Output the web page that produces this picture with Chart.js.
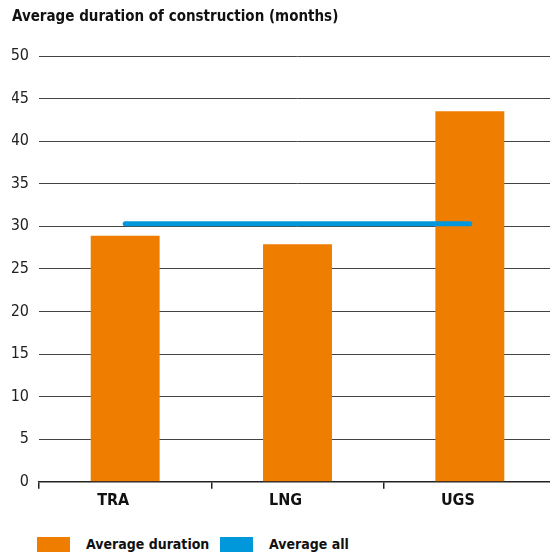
<!DOCTYPE html>
<html>
<head>
<meta charset="utf-8">
<script src="https://cdn.jsdelivr.net/npm/chart.js@4/dist/chart.umd.min.js"></script>
<style>
  body { margin: 0; background: #fff; }
  #wrap { position: relative; width: 550px; height: 556px; overflow: hidden; }
  #chartBox { width: 556px; height: 520px; }
  #legend {
    position: absolute; left: 37px; top: 536px;
    display: flex; align-items: center;
    font-family: 'DejaVu Sans Condensed', sans-serif;
    font-weight: bold; font-size: 14px; color: #111;
  }
  #legend .item { display: flex; align-items: center; width: 183px; }
  #legend .box { width: 33px; height: 15px; margin-right: 16px; }
</style>
</head>
<body>
<div id="wrap">
  <div id="chartBox"><canvas id="myChart"></canvas></div>
  <div id="legend"></div>
</div>
<script>
const categories = ["TRA", "LNG", "UGS"];
const avgDuration = [28.9, 27.9, 43.5];
const avgAll = [30.3, 30.3, 30.3];
const yTicks = [0, 5, 10, 15, 20, 25, 30, 35, 40, 45, 50];

const FONT = "'DejaVu Sans Condensed', sans-serif";
const ORANGE = "#ef7d00";
const BLUE = "#0098db";

function buildLegend(chart) {
  const legend = document.getElementById("legend");
  legend.innerHTML = "";
  chart.data.datasets.forEach((ds) => {
    const item = document.createElement("div");
    item.className = "item";
    const box = document.createElement("span");
    box.className = "box";
    box.style.background = ds.backgroundColor;
    const text = document.createElement("span");
    text.textContent = ds.label;
    item.appendChild(box);
    item.appendChild(text);
    legend.appendChild(item);
  });
}

function createChart() {
  const data = {
    labels: categories,
    datasets: [
      {
        type: "bar",
        label: "Average duration",
        backgroundColor: ORANGE,
        data: avgDuration,
        barPercentage: 0.4,
        categoryPercentage: 1,
        order: 2,
      },
      {
        type: "line",
        label: "Average all",
        borderColor: BLUE,
        backgroundColor: BLUE,
        borderWidth: 5,
        borderCapStyle: "round",
        pointRadius: 0,
        data: avgAll,
        order: 1,
      },
    ],
  };

  const config = {
    data,
    options: {
      responsive: true,
      maintainAspectRatio: false,
      animation: false,
      layout: { padding: { left: 12, right: 0, top: 0, bottom: 8 } },
      plugins: {
        tooltip: { enabled: false },
        legend: { display: false },
        title: {
          display: true,
          text: "Average duration of construction (months)",
          align: "start",
          color: "#111",
          font: { family: FONT, size: 15, weight: "bold" },
          padding: { top: 8, bottom: 30 },
        },
      },
      scales: {
        x: {
          offset: true,
          border: { display: true, color: "#222", width: 1.5 },
          grid: {
            drawOnChartArea: false,
            drawTicks: true,
            tickLength: 7,
            color: "#222",
            lineWidth: 1.5,
          },
          ticks: {
            color: "#111",
            labelOffset: -12,
            padding: 2,
            font: { family: FONT, size: 16, weight: "bold" },
          },
        },
        y: {
          min: 0,
          max: 50,
          afterBuildTicks: (axis) => {
            axis.ticks = yTicks.map((v) => ({ value: v }));
          },
          afterFit: (axis) => {
            axis.width = 27;
          },
          border: { display: false },
          grid: { color: "#444", lineWidth: 1, drawTicks: false },
          ticks: {
            color: "#222",
            padding: 10,
            font: { family: FONT, size: 16 },
          },
        },
      },
    },
  };
  const chart = new Chart(document.getElementById("myChart"), config);
  buildLegend(chart);
}

document.addEventListener("DOMContentLoaded", () => {
  createChart();
});
</script>
</body>
</html>
